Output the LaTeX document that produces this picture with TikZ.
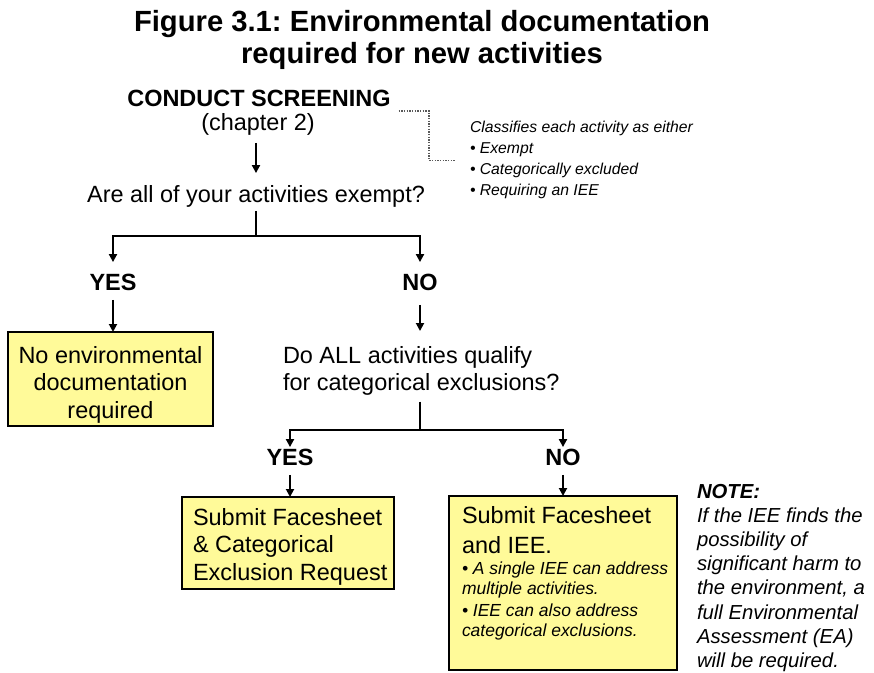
\documentclass[tikz,border=0pt]{standalone}
\usepackage{fontspec}
\setmainfont{Liberation Sans}
\usetikzlibrary{arrows.meta}
\frenchspacing

\begin{document}
\begin{tikzpicture}[x=0.75pt, y=-0.75pt,
  every node/.style={inner sep=0pt, outer sep=0pt},
  line/.style={text height=12.7pt, text depth=3.7pt},
  body/.style={font=\fontsize{17.6pt}{20.8pt}\selectfont},
  bodyb/.style={body, font=\fontsize{17.6pt}{20.8pt}\selectfont\bfseries},
  titlef/.style={font=\fontsize{21.9pt}{24pt}\selectfont\bfseries},
  small/.style={font=\fontsize{13.1pt}{15pt}\selectfont\itshape, align=left},
  classf/.style={font=\fontsize{11.8pt}{15.75pt}\selectfont\itshape, align=left},
  notef/.style={font=\fontsize{15.2pt}{18.15pt}\selectfont\itshape, align=left},
  ybox/.style={draw, line width=1.5pt, fill=yellow!40},
  flow/.style={line width=1.4pt},
  arr/.style={flow, -{Triangle[length=6pt,width=6pt]}},
  bracket/.style={densely dotted, line width=1pt, black!65},
]
\useasboundingbox (0,0) rectangle (874,672);

% title
\node[titlef, anchor=base] (t1) at (422,31) {Figure 3.1: Environmental documentation};
\node[titlef, anchor=base] (t2) at (422,63) {required for new activities};

% screening step
\node[bodyb, line, anchor=base] (scr) at (259,106) {CONDUCT SCREENING};
\node[body, line, anchor=base] (chap) at (258,130) {(chapter 2)};
\node[classf, anchor=north west] (cls) at (470,121.5)
  {Classifies each activity as either\\%
   \textbullet\ Exempt\\%
   \textbullet\ Categorically excluded\\%
   \textbullet\ Requiring an IEE};
\draw[bracket] ([xshift=6pt]scr.south east) -| ([xshift=-30.75pt]cls.west)
  -- ([xshift=-11.25pt]cls.west);

% first question
\node[body, line, anchor=base] (q1) at (256,202) {Are all of your activities exempt?};
\draw[arr, shorten <=6pt, shorten >=9pt] (chap.south -| q1) -- (q1.north);
\coordinate (j1) at (256,236);
\node[bodyb, line, anchor=base] (yes1) at (113,290) {YES};
\node[bodyb, line, anchor=base] (no1) at (420,290) {NO};
\draw[flow, shorten <=3pt] (q1.south) -- (j1);
\draw[arr, shorten >=8.25pt] (j1) -| (yes1);
\draw[arr, shorten >=8.25pt] (j1) -| (no1);

% no documentation
\node[ybox, minimum width=153.75pt, minimum height=70.5pt] (b1) at (110.5,379) {};
\node[body, align=center, anchor=north] (b1t) at (110.5,346)
  {No environmental\\documentation\\required};
\draw[arr, shorten <=3.75pt] (yes1.south) -- (yes1.south |- b1.north);

% second question
\node[body, align=left, anchor=north west] (q2) at (283,346)
  {Do ALL activities qualify\\for categorical exclusions?};
\draw[arr, shorten <=7.5pt, shorten >=11.25pt] (no1.south) -- (no1.south |- q2.north);
\coordinate (j2) at (420,430);
\node[bodyb, line, anchor=base] (yes2) at (290,465) {YES};
\node[bodyb, line, anchor=base] (no2) at (563,465) {NO};
\draw[flow, shorten <=4.5pt] (q2.south -| j2) -- (j2);
\draw[arr, shorten >=0.75pt] (j2) -| (yes2);
\draw[arr, shorten >=0.75pt] (j2) -| (no2);

% categorical exclusion request
\node[ybox, minimum width=159pt, minimum height=69pt] (b2) at (288,543) {};
\node[body, align=left, anchor=north west] (b2t) at (193,508)
  {Submit Facesheet\\\& Categorical\\Exclusion Request};
\draw[arr, shorten <=3.75pt] (yes2.south) -- (yes2.south |- b2.north);

% facesheet and IEE
\node[ybox, minimum width=171pt, minimum height=130.5pt] (b3) at (563,583) {};
\node[body, align=left, anchor=north west, font=\fontsize{17.6pt}{22.5pt}\selectfont]
  (b3t) at (462,506) {Submit Facesheet\\and IEE.};
\node[small, anchor=north west] (b3a) at (462,562)
  {\textbullet\ A single IEE can address\\multiple activities.};
\node[small, anchor=north west] (b3b) at (462,604)
  {\textbullet\ IEE can also address\\categorical exclusions.};
\draw[arr, shorten <=3.75pt] (no2.south) -- (no2.south |- b3.north);

% note
\node[notef, anchor=north west] (note) at (697,484)
  {\textbf{NOTE:}\\If the IEE finds the\\possibility of\\significant harm to\\the environment, a\\full Environmental\\Assessment (EA)\\will be required.};
\end{tikzpicture}
\end{document}
